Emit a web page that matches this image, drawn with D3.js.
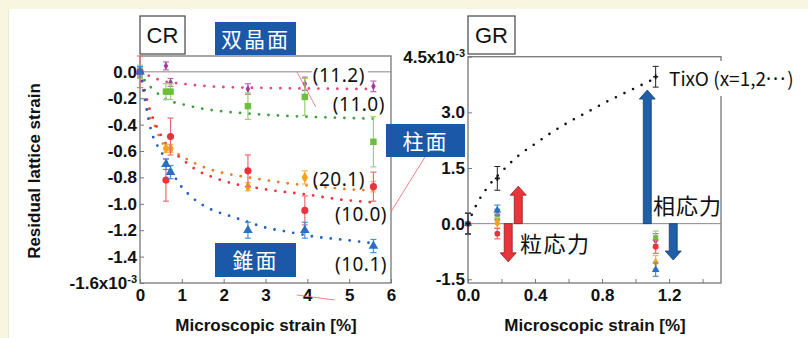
<!DOCTYPE html>
<meta charset="utf-8">
<style>
body { margin: 0; background: #f8f6e1; }
svg { display: block; }
.axis .domain { display: none; }
.axis .tick line { stroke: #777; }
.axis text { font-family: "Liberation Sans", Arial, sans-serif; font-weight: bold; font-size: 17px; fill: #111; }
.title { font-family: "Liberation Sans", Arial, sans-serif; font-weight: bold; font-size: 17px; fill: #111; }
.jp { font-family: "Noto Sans CJK JP", sans-serif; }
</style>
<svg width="808" height="338"></svg>
<script src="https://d3js.org/d3.v7.min.js"></script>
<script>

// ---- data ----
var series = ["(11.2)", "(11.0)", "(20.1)", "(10.0)", "(10.1)"];
var markColor = ["#a2399c", "#6cbf3c", "#f6a21e", "#e8323c", "#2a6fc0"];
var barColor  = ["#b469b4", "#9ad070", "#f5b860", "#ee6a70", "#4a8fd6"];
var dotColor  = ["#e8457a", "#3d9e3f", "#f47a20", "#e8323c", "#2060c0"];

// CR panel: microscopic strain [%] and residual lattice strain [x1e-3]
var crStrain = [0, 0.62, 0.73, 2.58, 3.94, 5.58];
var cr112 = [0, 0.045, -0.08, -0.13, -0.09, -0.11];
var cr110 = [0, -0.15, -0.15, -0.26, -0.19, -0.53];
var cr201 = [0, -0.58, -0.58, -0.87, -0.80, -0.87];
var cr100 = [0, -0.82, -0.49, -0.75, -1.05, -0.87];
var cr101 = [0, -0.70, -0.76, -1.20, -1.20, -1.32];
var cr112Err = [0.03, 0.03, 0.03, 0.04, 0.05, 0.04];
var cr110Err = [0.05, 0.06, 0.06, 0.10, 0.14, 0.19];
var cr201Err = [0.03, 0.03, 0.03, 0.03, 0.05, 0.04];
var cr100Err = [0.12, 0.16, 0.14, 0.12, 0.11, 0.11];
var cr101Err = [0.04, 0.04, 0.05, 0.06, 0.06, 0.05];

// fitted dotted curves
var fit112 = [[0,0],[0.25,-0.035],[0.5,-0.065],[1,-0.09],[2,-0.115],[3,-0.122],[4,-0.126],[5.6,-0.13]];
var fit110 = [[0,0],[0.12,-0.07],[0.33,-0.136],[0.5,-0.185],[0.75,-0.225],[1,-0.245],[1.5,-0.28],[2,-0.30],[3,-0.325],[4,-0.34],[5.6,-0.355]];
var fit201 = [[0,0],[0.18,-0.30],[0.33,-0.39],[0.52,-0.53],[0.75,-0.59],[1.0,-0.64],[1.43,-0.71],[1.9,-0.76],[2.4,-0.79],[3.0,-0.82],[3.42,-0.84],[4.0,-0.86],[4.6,-0.88],[5.6,-0.90]];
var fit100 = [[0,0],[0.1,-0.12],[0.2,-0.25],[0.35,-0.38],[0.5,-0.48],[0.7,-0.58],[0.96,-0.65],[1.33,-0.74],[1.8,-0.805],[2.27,-0.85],[2.8,-0.88],[3.2,-0.90],[4.0,-0.93],[4.6,-0.96],[5.6,-0.99]];
var fit101 = [[0,0],[0.05,-0.08],[0.1,-0.16],[0.18,-0.32],[0.3,-0.48],[0.4,-0.55],[0.55,-0.63],[0.75,-0.75],[0.92,-0.84],[1.24,-0.95],[1.68,-1.04],[2.13,-1.09],[2.6,-1.14],[3.0,-1.18],[3.5,-1.21],[4.2,-1.25],[4.8,-1.27],[5.6,-1.30]];

// GR panel
var grStrain = [0, 0.175, 1.12];
var gr112 = [0, 0.25, -0.45];
var gr110 = [0, 0.13, -0.38];
var gr201 = [0, 0.02, -1.04];
var gr100 = [0, -0.27, -0.62];
var gr101 = [0, 0.36, -1.24];
var grErr = [0.28, 0.14, 0.18];
var grTixO = [0, 1.22, 3.96];
var grTixOErr = [0.28, 0.32, 0.28];
var fitTixO = [[0,0],[0.055,0.55],[0.12,1.0],[0.207,1.43],[0.30,1.83],[0.40,2.15],[0.50,2.46],[0.61,2.76],[0.71,3.0],[0.82,3.27],[0.93,3.51],[1.05,3.77],[1.1,3.88]];

var crTicksY = [-1.6, -1.4, -1.2, -1.0, -0.8, -0.6, -0.4, -0.2, 0.0];
var crTicksX = [0, 1, 2, 3, 4, 5, 6];
var grTicksY = [-1.5, 0.0, 1.5, 3.0, 4.5];
var grTicksX = [0, 0.2, 0.4, 0.6, 0.8, 1.0, 1.2, 1.4];

var crVals = [cr112, cr110, cr201, cr100, cr101];
var crErrs = [cr112Err, cr110Err, cr201Err, cr100Err, cr101Err];
var crFits = [fit112, fit110, fit201, fit100, fit101];
var grVals = [gr112, gr110, gr201, gr100, gr101];
var shapes = [d3.symbolDiamond, d3.symbolSquare, d3.symbolDiamond, d3.symbolCircle, d3.symbolTriangle];
var shapeSize = [18, 42, 36, 40, 40];

// ---- setup ----
var svg = d3.select("svg");
svg.append("rect").attr("x", 9).attr("y", 9).attr("width", 799).attr("height", 329).attr("fill", "#fff");
svg.append("line").attr("x1", 8.5).attr("x2", 8.5).attr("y1", 9).attr("y2", 338).attr("stroke", "#ecead2");

var xL = d3.scaleLinear().domain([0, 6]).range([140, 391]);
var yL = d3.scaleLinear().domain([-1.6, 0.12]).range([283, 56]);
var xR = d3.scaleLinear().domain([0, 1.51]).range([468, 721]);
var yR = d3.scaleLinear().domain([-1.6, 4.5]).range([283, 56.7]);

var dotted = function(x, y) {
  return d3.line().x(function(d) { return x(d[0]); }).y(function(d) { return y(d[1]); }).curve(d3.curveMonotoneX);
};

function frame(x, y) {
  svg.append("rect")
    .attr("x", x.range()[0]).attr("y", y.range()[1])
    .attr("width", x.range()[1] - x.range()[0]).attr("height", y.range()[0] - y.range()[1])
    .attr("fill", "none").attr("stroke", "#777").attr("stroke-width", 1.3);
  svg.append("line")
    .attr("x1", x.range()[0]).attr("x2", x.range()[1])
    .attr("y1", y(0)).attr("y2", y(0))
    .attr("stroke", "#888").attr("stroke-width", 1);
}

function supLabel(sel, value, base) {
  sel.selectAll(".tick text").filter(function(d) { return d === value; })
    .text(base)
    .append("tspan").attr("dy", "-0.55em").attr("font-size", 11).text("-3");
}

// ---- CR panel ----
frame(xL, yL);

svg.append("g").attr("class", "axis")
  .attr("transform", "translate(0," + yL.range()[0] + ")")
  .call(d3.axisBottom(xL).tickValues(crTicksX).tickSizeInner(-4).tickSizeOuter(0).tickPadding(6)
    .tickFormat(function(d) { return String(d); }));

var ayL = svg.append("g").attr("class", "axis")
  .attr("transform", "translate(" + xL.range()[0] + ",0)")
  .call(d3.axisLeft(yL).tickValues(crTicksY).tickSizeInner(-4).tickSizeOuter(0).tickPadding(3)
    .tickFormat(function(d) { return d.toFixed(1); }));
supLabel(ayL, -1.6, "-1.6x10");

crFits.forEach(function(f, i) {
  svg.append("path").datum(f)
    .attr("d", dotted(xL, yL))
    .attr("fill", "none").attr("stroke", dotColor[i])
    .attr("stroke-width", 2.8).attr("stroke-linecap", "round")
    .attr("stroke-dasharray", "0,9.5");
});

function points(x, y, xs, vals, errs, i, size, cap) {
  var g = svg.append("g");
  var d = xs.map(function(s, k) { return {x: s, y: vals[k], e: errs[k]}; });
  var eb = g.selectAll(".eb").data(d).enter().append("g").attr("stroke", barColor[i]).attr("stroke-width", 1.2);
  eb.append("line").attr("x1", function(p) { return x(p.x); }).attr("x2", function(p) { return x(p.x); })
    .attr("y1", function(p) { return y(p.y + p.e); }).attr("y2", function(p) { return y(p.y - p.e); });
  [1, -1].forEach(function(s) {
    eb.append("line").attr("x1", function(p) { return x(p.x) - cap; }).attr("x2", function(p) { return x(p.x) + cap; })
      .attr("y1", function(p) { return y(p.y + s * p.e); }).attr("y2", function(p) { return y(p.y + s * p.e); });
  });
  g.selectAll(".pt").data(d).enter().append("path")
    .attr("transform", function(p) { return "translate(" + x(p.x) + "," + y(p.y) + ")"; })
    .attr("d", d3.symbol().type(shapes[i]).size(size))
    .attr("fill", markColor[i]);
}

crVals.forEach(function(v, i) { points(xL, yL, crStrain, v, crErrs[i], i, shapeSize[i], 3); });

// series labels
var labelX = [4.13, 4.61, 4.13, 4.66, 4.66];
var labelY = [-0.077, -0.297, -0.865, -1.13, -1.51];
series.forEach(function(s, i) {
  if (i === 0) {
    svg.append("rect").attr("x", xL(labelX[i]) - 1).attr("y", yL(labelY[i]) - 17)
      .attr("width", 56).attr("height", 20).attr("fill", "#fff");
  }
  svg.append("text").attr("x", xL(labelX[i])).attr("y", yL(labelY[i]))
    .attr("font-family", "Noto Sans, sans-serif").attr("font-size", 19).attr("letter-spacing", 0.5)
    .attr("fill", "#111").text(s);
});

svg.append("text").attr("class", "title").attr("text-anchor", "middle")
  .attr("x", 266).attr("y", 331).text("Microscopic strain [%]");
svg.append("text").attr("class", "title").attr("text-anchor", "middle")
  .attr("transform", "translate(40,171) rotate(-90)").text("Residual lattice strain");

// ---- GR panel ----
frame(xR, yR);

svg.append("g").attr("class", "axis")
  .attr("transform", "translate(0," + yR.range()[0] + ")")
  .call(d3.axisBottom(xR).tickValues(grTicksX).tickSizeInner(-4).tickSizeOuter(0).tickPadding(6)
    .tickFormat(function(d) { return (Math.round(d * 10) % 4 === 0) ? d.toFixed(1) : ""; }));

var ayR = svg.append("g").attr("class", "axis")
  .attr("transform", "translate(" + xR.range()[0] + ",0)")
  .call(d3.axisLeft(yR).tickValues(grTicksY).tickSizeInner(-4).tickSizeOuter(0).tickPadding(3)
    .tickFormat(function(d) { return d.toFixed(1); }));
supLabel(ayR, 4.5, "4.5x10");

svg.append("path").datum(fitTixO)
  .attr("d", dotted(xR, yR))
  .attr("fill", "none").attr("stroke", "#111")
  .attr("stroke-width", 2.6).attr("stroke-linecap", "round")
  .attr("stroke-dasharray", "0,9.5");

grVals.forEach(function(v, i) { points(xR, yR, grStrain, v, grErr, i, 26, 3); });

// TixO points
(function() {
  var g = svg.append("g").attr("stroke", "#222").attr("stroke-width", 1);
  grStrain.forEach(function(s, k) {
    var cx = xR(s);
    g.append("line").attr("x1", cx).attr("x2", cx).attr("y1", yR(grTixO[k] + grTixOErr[k])).attr("y2", yR(grTixO[k] - grTixOErr[k]));
    g.append("line").attr("x1", cx - 3).attr("x2", cx + 3).attr("y1", yR(grTixO[k] + grTixOErr[k])).attr("y2", yR(grTixO[k] + grTixOErr[k]));
    g.append("line").attr("x1", cx - 3).attr("x2", cx + 3).attr("y1", yR(grTixO[k] - grTixOErr[k])).attr("y2", yR(grTixO[k] - grTixOErr[k]));
    svg.append("path").attr("transform", "translate(" + cx + "," + yR(grTixO[k]) + ")")
      .attr("d", d3.symbol().type(d3.symbolCross).size(14)).attr("fill", "#111");
  });
})();

// stress arrows
var arrowX = [0.30, 0.24, 1.07, 1.225];
var arrowTip = [1.01, -1.03, 3.6, -0.98];
var arrowFill = ["#e8343a", "#e8343a", "#1f5fa8", "#1f5fa8"];
var arrowLine = ["#8a2020", "#8a2020", "#163f70", "#163f70"];
arrowX.forEach(function(a, i) {
  var cx = xR(a), y0 = yR(0), y1 = yR(arrowTip[i]);
  var dir = y1 < y0 ? -1 : 1, yh = y1 - dir * 9;
  var p = "M" + (cx - 4) + "," + y0 + "L" + (cx - 4) + "," + yh + "L" + (cx - 8) + "," + yh +
          "L" + cx + "," + y1 + "L" + (cx + 8) + "," + yh + "L" + (cx + 4) + "," + yh + "L" + (cx + 4) + "," + y0 + "Z";
  svg.append("path").attr("d", p).attr("fill", arrowFill[i]).attr("stroke", arrowLine[i]).attr("stroke-width", 0.8);
});

svg.append("rect").attr("x", 667).attr("y", 61).attr("width", 141).attr("height", 35).attr("fill", "#fff");
var tix = svg.append("text").attr("class", "jp").attr("x", 669).attr("y", 86).attr("font-size", 19).attr("fill", "#111")
  .text("TixO (x=1,2");
tix.append("tspan").attr("font-family", "Noto Sans, sans-serif").attr("letter-spacing", 2).text("···");
tix.append("tspan").text(")");
svg.append("text").attr("class", "jp").attr("x", 520).attr("y", 252).attr("font-size", 22).attr("letter-spacing", 1.5).attr("fill", "#111").text("粒応力");
svg.append("text").attr("class", "jp").attr("x", 653).attr("y", 214).attr("font-size", 22).attr("letter-spacing", 1).attr("fill", "#111").text("相応力");

svg.append("text").attr("class", "title").attr("text-anchor", "middle")
  .attr("x", 595).attr("y", 331).text("Microscopic strain [%]");

// ---- panel tags and plane boxes ----
function tag(x, y, w, h, txt) {
  svg.append("rect").attr("x", x).attr("y", y).attr("width", w).attr("height", h)
    .attr("fill", "#fff").attr("stroke", "#444").attr("stroke-width", 1.2);
  svg.append("text").attr("x", x + w / 2).attr("y", y + h / 2 + 8).attr("text-anchor", "middle")
    .attr("font-family", "Liberation Sans, Arial, sans-serif").attr("font-size", 22).attr("fill", "#111").text(txt);
}
tag(140, 16, 45, 38, "CR");
tag(468, 16, 47, 38, "GR");

function blueBox(x, y, w, h, txt) {
  svg.append("rect").attr("x", x).attr("y", y).attr("width", w).attr("height", h).attr("fill", "#1b58a8");
  svg.append("text").attr("class", "jp").attr("x", x + w / 2).attr("y", y + h / 2 + 8).attr("text-anchor", "middle")
    .attr("font-size", 21).attr("letter-spacing", 2).attr("fill", "#fff").text(txt);
}
blueBox(215, 22, 81, 33, "双晶面");
blueBox(386, 124, 79, 33, "柱面");
blueBox(215, 243, 81, 34, "錐面");

// thin red leader lines
var leader = svg.append("g").attr("stroke", "#f06070").attr("stroke-width", 0.8);
leader.append("line").attr("x1", xL(3.75)).attr("y1", yL(0)).attr("x2", xL(4.2)).attr("y2", yL(-0.265));
leader.append("line").attr("x1", 425).attr("y1", 157).attr("x2", xL(6)).attr("y2", yL(-1.06));
leader.append("line").attr("x1", xL(3.75)).attr("y1", 295).attr("x2", xL(4.65)).attr("y2", 300);

</script>
